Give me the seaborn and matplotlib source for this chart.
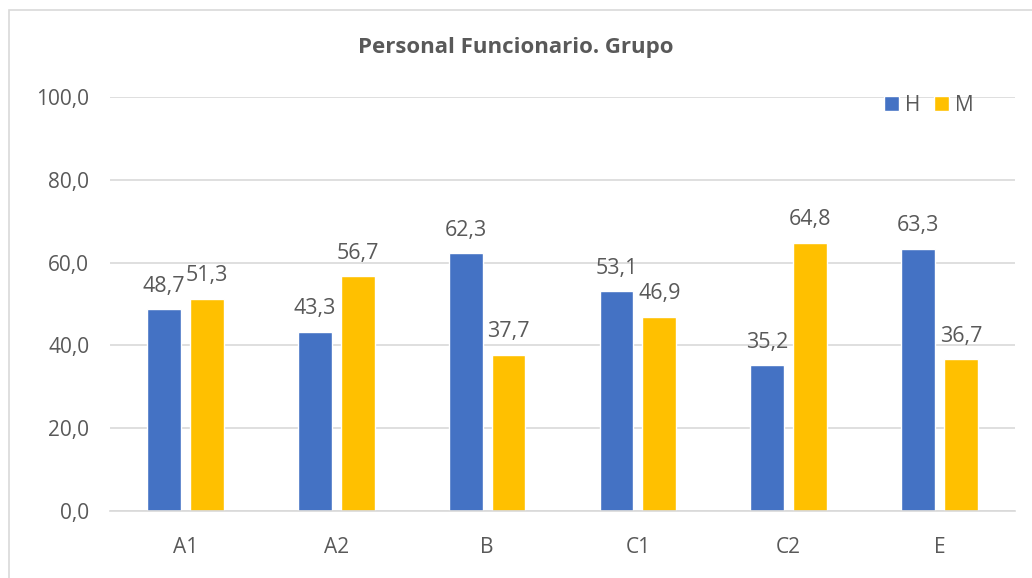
import pandas as pd
import seaborn as sns
import matplotlib.pyplot as plt
from matplotlib.patches import Rectangle

groups = ["A1", "A2", "B", "C1", "C2", "E"]
hombres = [48.7, 43.3, 62.3, 53.1, 35.2, 63.3]
mujeres = [51.3, 56.7, 37.7, 46.9, 64.8, 36.7]
yticks = [0, 20, 40, 60, 80, 100]

df = pd.DataFrame({
    "grupo": groups * 2,
    "sexo": ["H"] * len(groups) + ["M"] * len(groups),
    "valor": hombres + mujeres,
})

sns.set_theme(style="white")
plt.rcParams["font.family"] = ["Open Sans", "DejaVu Sans"]
grey = "#595959"

fig = plt.figure(figsize=(10.32, 5.78), dpi=100)
ax = fig.add_axes([110 / 1032, 1 - 511 / 578, 905 / 1032, 414 / 578])

sns.barplot(data=df, x="grupo", y="valor", hue="sexo", order=groups,
            palette={"H": "#4472C4", "M": "#FFC000"}, width=0.568, gap=0.21,
            ax=ax, saturation=1)

for cont in ax.containers:
    ax.bar_label(cont, labels=[f"{v:.1f}".replace(".", ",") for v in cont.datavalues],
                 padding=9, fontsize=15.5, color=grey)

ax.set_ylim(0, 100)
ax.set_yticks(yticks)
ax.set_yticklabels([f"{v:.1f}".replace(".", ",") for v in yticks])
ax.tick_params(axis="both", labelsize=15, colors=grey, length=0)
ax.tick_params(axis="y", pad=15)
ax.tick_params(axis="x", pad=19)
ax.grid(axis="y", color="#d9d9d9", linewidth=1.2)
ax.set_axisbelow(True)
for s in ["top", "right", "left"]:
    ax.spines[s].set_visible(False)
ax.spines["bottom"].set_color("#d9d9d9")
ax.spines["bottom"].set_linewidth(1.2)
ax.set_xlabel("")
ax.set_ylabel("")

leg = ax.legend(loc="upper right", ncol=2, frameon=False, fontsize=15,
                handlelength=0.7, handleheight=0.7, handletextpad=0.3,
                columnspacing=0.65, bbox_to_anchor=(0.975, 1.05))
for t in leg.get_texts():
    t.set_color(grey)

fig.text(0.5, 1 - 47 / 578, "Personal Funcionario. Grupo", ha="center", va="center",
         fontsize=16, fontweight="bold", color=grey)

fig.patches.append(Rectangle((8.5 / 1032, -0.1), 1.2, 1 - 9.5 / 578 + 0.1,
                             transform=fig.transFigure, fill=False,
                             edgecolor="#d9d9d9", linewidth=1.2))

fig.savefig("out.png", dpi=100)
